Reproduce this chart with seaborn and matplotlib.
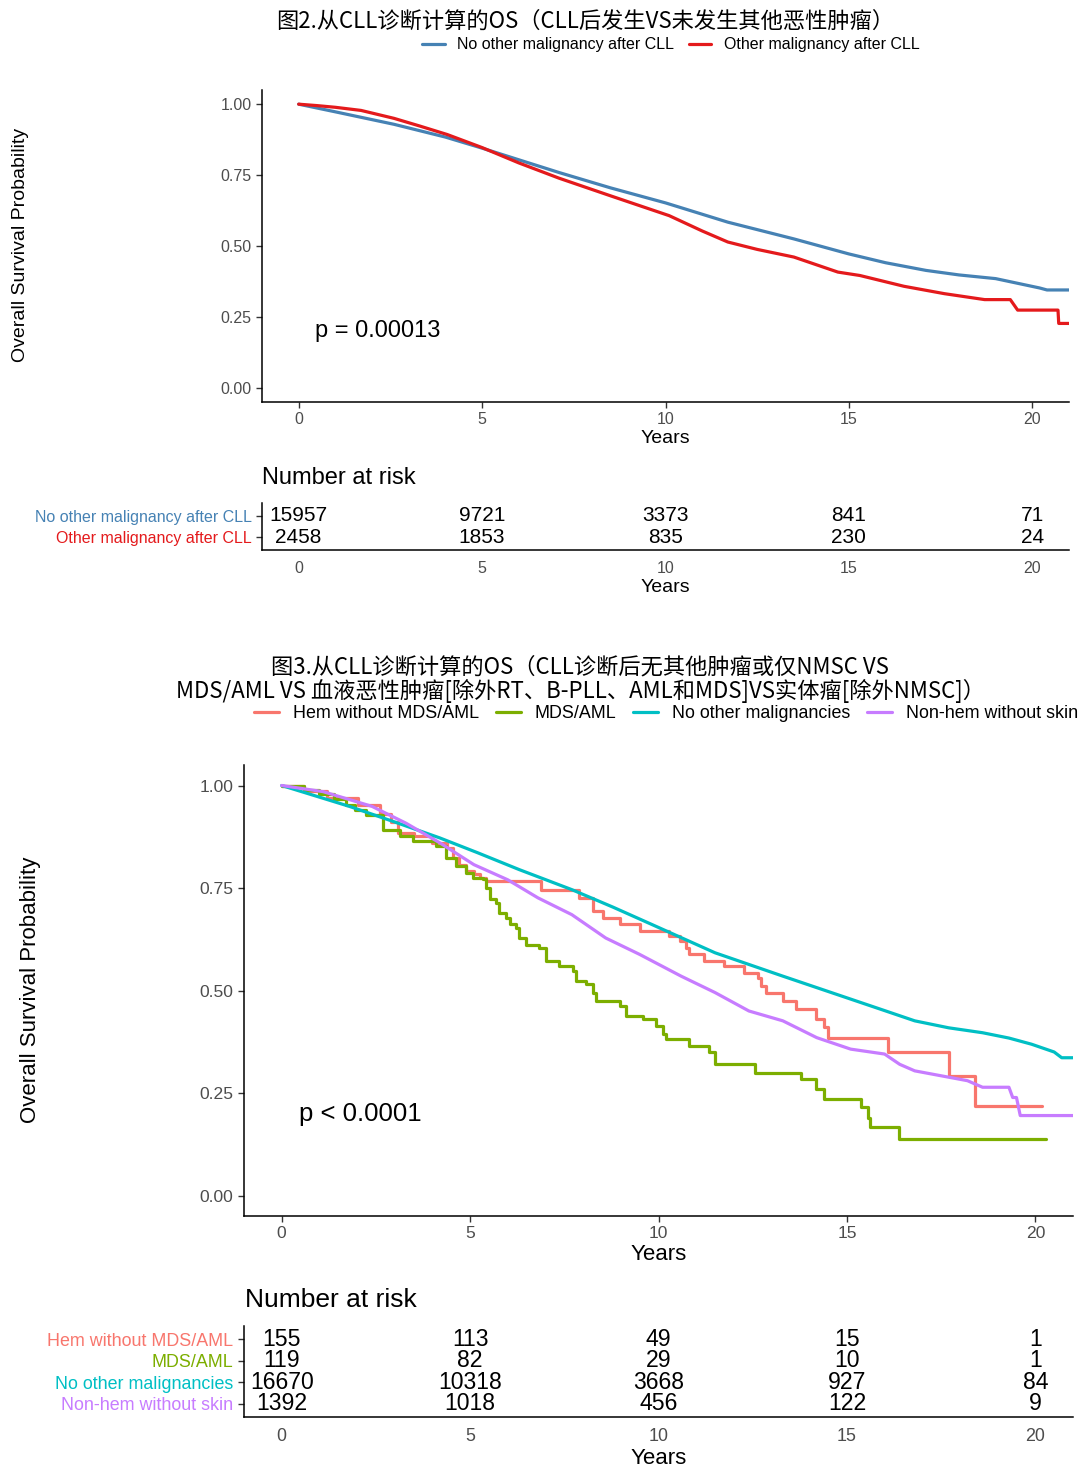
import matplotlib
matplotlib.use("Agg")
import matplotlib.pyplot as plt
from matplotlib.lines import Line2D
import seaborn as sns

# ---------------- Figure 2 data ----------------
fig2_groups = ["No other malignancy after CLL", "Other malignancy after CLL"]
fig2_colors = ["#4682B4", "#E41A1C"]

no_mal_t = [0, 1, 2.6, 4, 5, 6, 7.1, 8.5, 10, 11.7, 13.5, 15, 16, 17.1, 18, 19, 20.2,
            20.4, 21]
no_mal_s = [1.0, 0.973, 0.929, 0.884, 0.845, 0.804, 0.759, 0.705, 0.652, 0.584, 0.525,
            0.472, 0.441, 0.414, 0.398, 0.385, 0.352, 0.345, 0.345]
other_mal_t = [0, 0.5, 1.0, 1.7, 2.6, 3.3, 4.05, 5, 6, 7.1, 8.5, 10.1, 11, 11.7, 12.5,
               13.5, 14.7, 15.3, 16.5, 17.6, 18.7, 19.4, 19.6, 20.7, 20.72, 21]
other_mal_s = [1.0, 0.995, 0.989, 0.978, 0.950, 0.923, 0.893, 0.847, 0.793, 0.739,
               0.677, 0.607, 0.553, 0.514, 0.488, 0.461, 0.408, 0.396, 0.358, 0.332,
               0.311, 0.311, 0.274, 0.274, 0.227, 0.227]

risk_times = [0, 5, 10, 15, 20]
fig2_risk_no = [15957, 9721, 3373, 841, 71]
fig2_risk_other = [2458, 1853, 835, 230, 24]

# ---------------- Figure 3 data ----------------
fig3_groups = ["Hem without MDS/AML", "MDS/AML", "No other malignancies",
               "Non-hem without skin"]
fig3_colors = ["#F8766D", "#7CAE00", "#00BFC4", "#C77CFF"]

hem_t = [0, 0.6, 1.2, 2.03, 2.6, 2.9, 3.1, 3.5, 4.0, 4.4, 4.55, 4.7, 4.9, 5.1, 5.25,
         5.43, 6.89, 7.9, 8.26, 8.52, 8.97, 9.5, 10.29, 10.56, 10.73, 10.82, 11.22,
         11.75, 12.28, 12.63, 12.72, 12.86, 13.30, 13.65, 14.18, 14.40, 14.49, 16.08,
         17.72, 18.41, 20.18]
hem_s = [1.0, 0.987, 0.969, 0.953, 0.93, 0.912, 0.884, 0.876, 0.860, 0.848, 0.823,
         0.807, 0.791, 0.783, 0.775, 0.766, 0.746, 0.726, 0.693, 0.677, 0.661, 0.646,
         0.633, 0.620, 0.604, 0.590, 0.573, 0.560, 0.543, 0.531, 0.511, 0.495, 0.474,
         0.454, 0.430, 0.410, 0.385, 0.349, 0.292, 0.219, 0.219]

mds_t = [0, 0.6, 1.0, 1.4, 1.72, 1.95, 2.25, 2.69, 3.13, 3.48, 4.10, 4.37, 4.63,
         4.90, 5.07, 5.34, 5.43, 5.52, 5.69, 5.78, 5.96, 6.05, 6.22, 6.31, 6.49, 6.84,
         7.02, 7.37, 7.73, 7.82, 8.08, 8.26, 8.35, 8.97, 9.14, 9.58, 9.94, 10.11,
         10.2, 10.82, 11.35, 11.49, 12.55, 13.78, 14.18, 14.40, 15.38, 15.55, 15.6,
         16.39, 20.28]
mds_s = [1.0, 0.99, 0.98, 0.966, 0.953, 0.941, 0.929, 0.892, 0.876, 0.864, 0.852,
         0.823, 0.803, 0.787, 0.775, 0.771, 0.750, 0.722, 0.714, 0.689, 0.677, 0.661,
         0.653, 0.628, 0.612, 0.604, 0.572, 0.560, 0.547, 0.523, 0.515, 0.495, 0.474,
         0.462, 0.438, 0.430, 0.414, 0.393, 0.381, 0.365, 0.349, 0.320, 0.300, 0.284,
         0.260, 0.235, 0.215, 0.190, 0.166, 0.138, 0.138]

none_t = [0, 1.8, 3.0, 4.2, 5.2, 6.3, 7.7, 8.8, 9.8, 11.5, 13.3, 15.1, 16.0, 16.8,
          17.7, 18.6, 19.3, 19.9, 20.5, 20.7, 21]
none_s = [1.0, 0.949, 0.911, 0.872, 0.836, 0.795, 0.746, 0.703, 0.662, 0.592, 0.535,
          0.479, 0.451, 0.426, 0.409, 0.397, 0.384, 0.369, 0.350, 0.336, 0.336]

nonhem_t = [0, 1.1, 2.4, 3.3, 4.2, 5.1, 6.0, 6.8, 7.7, 8.6, 9.5, 10.6, 11.5, 12.4,
            13.3, 14.2, 15.1, 16.0, 16.4, 16.8, 17.5, 18.2, 18.6, 19.3, 19.4, 19.5,
            19.6, 21]
nonhem_s = [1.0, 0.985, 0.949, 0.908, 0.860, 0.807, 0.770, 0.726, 0.685, 0.628, 0.588,
            0.535, 0.495, 0.450, 0.426, 0.385, 0.357, 0.345, 0.320, 0.304, 0.292, 0.280,
            0.264, 0.264, 0.239, 0.239, 0.195, 0.195]

fig3_risk_hem = [155, 113, 49, 15, 1]
fig3_risk_mds = [119, 82, 29, 10, 1]
fig3_risk_none = [16670, 10318, 3668, 927, 84]
fig3_risk_nonhem = [1392, 1018, 456, 122, 9]

title2 = "图2.从CLL诊断计算的OS（CLL后发生VS未发生其他恶性肿瘤）"
title3 = ("图3.从CLL诊断计算的OS（CLL诊断后无其他肿瘤或仅NMSC VS\n"
          "MDS/AML VS 血液恶性肿瘤[除外RT、B-PLL、AML和MDS]VS实体瘤[除外NMSC]）")

# ---------------- style ----------------
sns.set_theme(style="ticks")
plt.rcParams["font.family"] = ["Liberation Sans", "Noto Sans CJK SC", "DejaVu Sans"]
plt.rcParams["text.color"] = "black"
plt.rcParams["axes.labelcolor"] = "black"
CJK = ["Noto Sans CJK SC", "DejaVu Sans"]
TICK_GREY = "#4D4D4D"

W, H = 1080, 1481
fig = plt.figure(figsize=(W / 100, H / 100), dpi=100)


def box(left, top, right, bottom):
    return [left / W, 1 - bottom / H, (right - left) / W, (bottom - top) / H]


def style_axis(ax, tick_fs):
    sns.despine(ax=ax)
    for sp in ("left", "bottom"):
        ax.spines[sp].set_linewidth(1.1)
        ax.spines[sp].set_color("black")
    ax.tick_params(labelsize=tick_fs, labelcolor=TICK_GREY, length=4, width=1,
                   color="#333333")
    ax.set_xlim(-1, 21)
    ax.set_xticks(risk_times)
    ax.grid(False)


def km_panel(ax, curves, tick_fs, lab_fs, pval, p_fs):
    for t, s, color, steps in curves:
        sns.lineplot(x=t, y=s, ax=ax, color=color, linewidth=2.3, estimator=None,
                     sort=False, drawstyle="steps-post" if steps else "default")
    style_axis(ax, tick_fs)
    ax.set_ylim(-0.05, 1.05)
    ax.set_yticks([0, 0.25, 0.5, 0.75, 1.0])
    ax.set_yticklabels(["0.00", "0.25", "0.50", "0.75", "1.00"])
    ax.set_ylabel("")
    ax.set_xlabel("Years", fontsize=lab_fs, labelpad=2)
    ax.text(0.45, 0.2, pval, fontsize=p_fs, ha="left", va="center")


def risk_panel(ax, groups, colors, tables, tick_fs, num_fs, lab_fs):
    n = len(groups)
    for i, vals in enumerate(tables):
        ypos = n - i
        for t, v in zip(risk_times, vals):
            ax.text(t, ypos, str(v), ha="center", va="center", fontsize=num_fs)
    style_axis(ax, tick_fs)
    ax.set_ylim(0.4, n + 0.6)
    ax.set_yticks(range(n, 0, -1))
    ax.set_yticklabels(groups)
    for lab, c in zip(ax.get_yticklabels(), colors):
        lab.set_color(c)
    ax.tick_params(axis="x", length=0, pad=8)
    ax.set_xlabel("Years", fontsize=lab_fs, labelpad=2)


# ---------------- Figure 2 ----------------
ax1 = fig.add_axes(box(262, 90, 1069, 402))
km_panel(ax1, [(no_mal_t, no_mal_s, fig2_colors[0], False),
               (other_mal_t, other_mal_s, fig2_colors[1], False)],
         tick_fs=11.5, lab_fs=14, pval="p = 0.00013", p_fs=17)
fig.text(21 / W, 1 - 245 / H, "Overall Survival Probability", rotation=90,
         ha="center", va="center", fontsize=14)
fig.text(585 / W, 1 - 21 / H, title2, ha="center", va="center", fontsize=16,
         family=CJK)
fig.legend(handles=[Line2D([], [], color=c, lw=2.3) for c in fig2_colors],
           labels=fig2_groups, ncol=2, loc="center",
           bbox_to_anchor=(671 / W, 1 - 45 / H), frameon=False, fontsize=11.5,
           handlelength=1.4, handletextpad=0.8, columnspacing=0.9)

rk1 = fig.add_axes(box(262, 503, 1069, 550))
risk_panel(rk1, fig2_groups, fig2_colors, [fig2_risk_no, fig2_risk_other],
           tick_fs=11.5, num_fs=15, lab_fs=14)
fig.text(262 / W, 1 - 478 / H, "Number at risk", ha="left", va="center", fontsize=17)

# ---------------- Figure 3 ----------------
ax2 = fig.add_axes(box(244, 765, 1073, 1216))
km_panel(ax2, [(hem_t, hem_s, fig3_colors[0], True),
               (mds_t, mds_s, fig3_colors[1], True),
               (none_t, none_s, fig3_colors[2], False),
               (nonhem_t, nonhem_s, fig3_colors[3], False)],
         tick_fs=12.6, lab_fs=16, pval="p < 0.0001", p_fs=18.5)
fig.text(31 / W, 1 - 990 / H, "Overall Survival Probability", rotation=90,
         ha="center", va="center", fontsize=16)
fig.text(580 / W, 1 - 679 / H, title3, ha="center", va="center", fontsize=16,
         family=CJK, linespacing=1.0)
fig.legend(handles=[Line2D([], [], color=c, lw=2.3) for c in fig3_colors],
           labels=fig3_groups, ncol=4, loc="center",
           bbox_to_anchor=(666 / W, 1 - 714 / H), frameon=False, fontsize=12.9,
           handlelength=1.4, handletextpad=0.8, columnspacing=0.9)

rk2 = fig.add_axes(box(244, 1326, 1073, 1417))
risk_panel(rk2, fig3_groups, fig3_colors,
           [fig3_risk_hem, fig3_risk_mds, fig3_risk_none, fig3_risk_nonhem],
           tick_fs=12.9, num_fs=16.6, lab_fs=16)
fig.text(245 / W, 1 - 1300 / H, "Number at risk", ha="left", va="center", fontsize=19)

fig.savefig("out.png", dpi=100, facecolor="white")
